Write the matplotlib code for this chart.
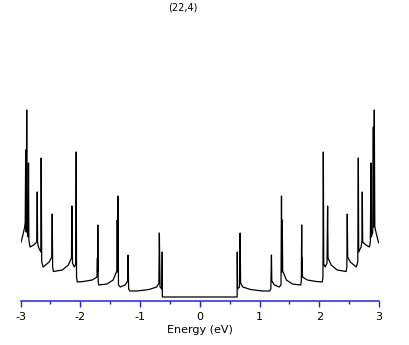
import numpy as np
import matplotlib
matplotlib.use("Agg")
import matplotlib.pyplot as plt
from matplotlib.ticker import MultipleLocator

# DOS of the (22,4) nanotube (arbitrary units)
energy_neg = [-3.00, -2.99, -2.96, -2.930, -2.921, -2.913, -2.905, -2.896, -2.888,
              -2.872, -2.866, -2.860, -2.855, -2.84, -2.78, -2.727, -2.720, -2.714,
              -2.70, -2.660, -2.654, -2.645, -2.62, -2.52, -2.476, -2.469, -2.462,
              -2.45, -2.30, -2.20, -2.147, -2.140, -2.13, -2.10, -2.075, -2.068,
              -2.062, -2.05, -1.95, -1.80, -1.72, -1.713, -1.710, -1.706, -1.700,
              -1.69, -1.55, -1.45, -1.388, -1.381, -1.374, -1.368, -1.36, -1.33,
              -1.25, -1.206, -1.200, -1.19, -1.17, -1.05, -0.85, -0.72, -0.684,
              -0.676, -0.665, -0.633, -0.628, -0.626]
dos_neg = [5.4, 5.5, 6.2, 7.0, 7.5, 14.7, 6.5, 18.7, 6.5,
           6.0, 13.4, 5.8, 5.5, 5.0, 5.2, 5.5, 10.5, 5.5,
           5.0, 4.5, 13.9, 3.5, 3.0, 3.5, 4.0, 8.3, 3.0,
           2.55, 2.7, 3.2, 3.9, 9.1, 3.4, 3.0, 3.3, 14.5,
           2.0, 1.5, 1.55, 1.7, 2.0, 3.9, 2.5, 7.2, 1.6,
           1.2, 1.3, 1.7, 2.6, 7.7, 2.5, 10.1, 1.2, 1.0,
           1.2, 1.6, 4.2, 0.8, 0.6, 0.6, 0.75, 1.0, 1.4,
           6.4, 1.0, 0.8, 4.5, 0.0]

energy_pos = [0.626, 0.628, 0.633, 0.665, 0.676, 0.684, 0.72, 0.85, 1.05,
              1.17, 1.19, 1.200, 1.206, 1.25, 1.33, 1.36, 1.368, 1.374,
              1.381, 1.388, 1.45, 1.55, 1.69, 1.700, 1.706, 1.710, 1.713,
              1.72, 1.80, 1.95, 2.05, 2.062, 2.068, 2.075, 2.10, 2.13,
              2.140, 2.147, 2.20, 2.30, 2.45, 2.462, 2.469, 2.476, 2.52,
              2.62, 2.645, 2.654, 2.660, 2.70, 2.714, 2.720, 2.727, 2.78,
              2.84, 2.855, 2.866, 2.872, 2.895, 2.905, 2.912, 2.921, 2.930,
              2.96, 2.99, 3.00]
dos_pos = [0.0, 4.5, 0.8, 1.0, 6.4, 1.4, 1.0, 0.75, 0.6,
           0.6, 0.8, 4.2, 1.6, 1.2, 1.0, 1.2, 10.1, 2.5,
           7.7, 2.6, 1.7, 1.3, 1.2, 1.6, 7.2, 2.5, 3.9,
           2.0, 1.7, 1.55, 1.5, 2.0, 14.5, 3.3, 3.0, 3.4,
           9.1, 3.9, 3.2, 2.7, 2.55, 3.0, 8.3, 4.0, 3.5,
           3.0, 3.5, 13.9, 4.5, 5.0, 5.5, 10.5, 5.5, 5.2,
           5.0, 5.5, 13.4, 6.0, 6.5, 17.0, 7.0, 18.7, 7.0,
           6.2, 5.5, 5.4]

energy = np.array(energy_neg + energy_pos)
dos = np.array(dos_neg + dos_pos)

plt.rcParams['axes.unicode_minus'] = False
blue = '#2323d8'

fig = plt.figure(figsize=(4.09, 3.45), dpi=100)
ax = fig.add_axes([20.5 / 409, 44.3 / 345, 358.5 / 409, 280.7 / 345])
ax.plot(energy, dos, color='black', lw=0.9)

ax.set_xlim(-3, 3)
ax.set_ylim(-0.37, 27.7)
for s in ['top', 'left', 'right']:
    ax.spines[s].set_visible(False)
ax.spines['bottom'].set_color(blue)
ax.spines['bottom'].set_linewidth(1.1)
ax.set_yticks([])
ax.xaxis.set_major_locator(MultipleLocator(1))
ax.xaxis.set_minor_locator(MultipleLocator(0.5))
ax.tick_params(axis='x', which='major', length=4, width=1, color=blue, labelsize=8, pad=4)
ax.tick_params(axis='x', which='minor', length=2.5, width=1, color=blue)
ax.set_xlabel('Energy (eV)', fontsize=8, labelpad=2)

fig.text(182.5 / 409, 1 - 8 / 345, '(22,4)', fontsize=7, ha='center', va='center')

fig.savefig('out.png', dpi=100)
